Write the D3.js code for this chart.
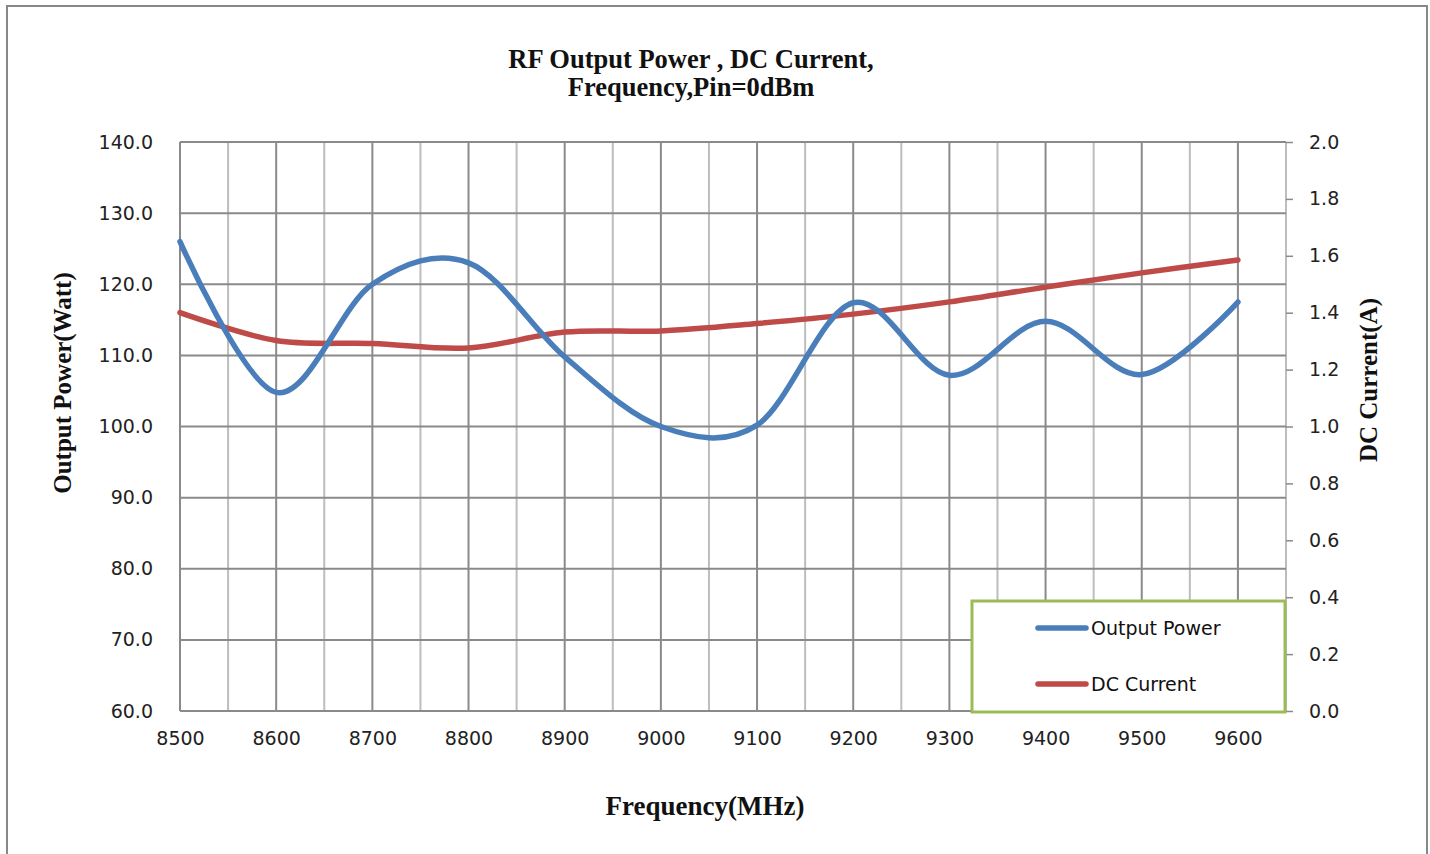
<!DOCTYPE html>
<meta charset="utf-8">
<style>
body {
  margin: 0;
  background: #fff;
}
.tick text {
  font-family: "DejaVu Sans", sans-serif;
  font-size: 19px;
  fill: #222;
}
.ttl {
  font-family: "Liberation Serif", serif;
  font-weight: bold;
  fill: #111;
}
</style>
<svg width="1430" height="854"></svg>
<script src="https://cdn.jsdelivr.net/npm/d3@7"></script>
<script>

var freq = [8500, 8600, 8700, 8800, 8900, 9000, 9100, 9200, 9300, 9400, 9500, 9600];
var power = [126.0, 104.8, 120.0, 123.0, 109.8, 100.0, 100.2, 117.4, 107.2, 114.8, 107.3, 117.5];
var current = [1.40, 1.302, 1.292, 1.276, 1.332, 1.336, 1.362, 1.395, 1.438, 1.49, 1.54, 1.585];
var yLeftTicks = [60, 70, 80, 90, 100, 110, 120, 130, 140];
var yRightTicks = [0, 0.2, 0.4, 0.6, 0.8, 1.0, 1.2, 1.4, 1.6, 1.8, 2.0];
var seriesNames = ["Output Power", "DC Current"];
var colors = ["#4a7ebb", "#be4b48"];

var plotLeft = 180, plotRight = 1286, plotTop = 142, plotBottom = 711;

var svg = d3.select("svg");

// outer chart border
svg.append("rect")
  .attr("x", 7).attr("y", 6)
  .attr("width", 1420).attr("height", 860)
  .attr("fill", "none")
  .attr("stroke", "#888")
  .attr("stroke-width", 2);

var x = d3.scaleLinear().domain([8500, 9650]).range([plotLeft, plotRight]);
var y = d3.scaleLinear().domain([60, 140]).range([plotBottom, plotTop]);
var y2 = d3.scaleLinear().domain([0, 2]).range([plotBottom, plotTop]);

// vertical grid: light at the 50s, darker at the 100s
svg.append("g")
  .selectAll("line")
  .data(x.ticks(24))
  .enter().append("line")
  .attr("x1", function(d) { return x(d); })
  .attr("x2", function(d) { return x(d); })
  .attr("y1", plotTop).attr("y2", plotBottom)
  .attr("stroke", function(d) { return d % 100 == 0 ? "#8a8a8a" : "#bdbdbd"; })
  .attr("stroke-width", 2);

// horizontal grid
svg.append("g")
  .selectAll("line")
  .data(yLeftTicks)
  .enter().append("line")
  .attr("x1", plotLeft).attr("x2", plotRight)
  .attr("y1", function(d) { return y(d); })
  .attr("y2", function(d) { return y(d); })
  .attr("stroke", "#8a8a8a")
  .attr("stroke-width", 2);

// axes
var xAxis = svg.append("g")
  .attr("transform", "translate(0," + plotBottom + ")")
  .call(d3.axisBottom(x).tickValues(freq).tickSize(0).tickPadding(21).tickFormat(d3.format("d")));
xAxis.select(".domain").remove();

var yAxis = svg.append("g")
  .attr("transform", "translate(" + plotLeft + ",0)")
  .call(d3.axisLeft(y).tickValues(yLeftTicks).tickSize(0).tickPadding(27).tickFormat(d3.format(".1f")));
yAxis.select(".domain").remove();

var yAxis2 = svg.append("g")
  .attr("transform", "translate(" + plotRight + ",0)")
  .call(d3.axisRight(y2).tickValues(yRightTicks).tickSize(7).tickPadding(16).tickFormat(d3.format(".1f")));
yAxis2.select(".domain").remove();
yAxis2.selectAll(".tick line").attr("stroke", "#8a8a8a").attr("stroke-width", 1.5);

// series lines (smoothed like the spreadsheet's curves)
var line1 = d3.line()
  .x(function(d, i) { return x(freq[i]); })
  .y(function(d) { return y(d); })
  .curve(d3.curveCardinal.tension(0));
var line2 = d3.line()
  .x(function(d, i) { return x(freq[i]); })
  .y(function(d) { return y2(d); })
  .curve(d3.curveCardinal.tension(0));

svg.append("path")
  .datum(current)
  .attr("d", line2)
  .attr("fill", "none")
  .attr("stroke", colors[1])
  .attr("stroke-width", 5.5)
  .attr("stroke-linecap", "round");

svg.append("path")
  .datum(power)
  .attr("d", line1)
  .attr("fill", "none")
  .attr("stroke", colors[0])
  .attr("stroke-width", 5.5)
  .attr("stroke-linecap", "round");

// legend
var legend = svg.append("g");
legend.append("rect")
  .attr("x", 972).attr("y", 601)
  .attr("width", 313).attr("height", 111)
  .attr("fill", "#fff")
  .attr("stroke", "#9bbb59")
  .attr("stroke-width", 3);

var item = legend.selectAll(".item")
  .data(seriesNames)
  .enter().append("g")
  .attr("transform", function(d, i) { return "translate(0," + (628 + i * 56) + ")"; });
item.append("line")
  .attr("x1", 1038).attr("x2", 1086)
  .attr("stroke", function(d, i) { return colors[i]; })
  .attr("stroke-width", 5.5)
  .attr("stroke-linecap", "round");
item.append("text")
  .attr("x", 1091).attr("dy", "0.35em")
  .style("font-family", "DejaVu Sans, sans-serif")
  .style("font-size", "19px")
  .attr("fill", "#111")
  .text(function(d) { return d; });

// titles
svg.append("text").attr("class", "ttl")
  .attr("x", 691).attr("y", 68)
  .attr("text-anchor", "middle")
  .style("font-size", "26.5px")
  .text("RF Output Power , DC Current,");
svg.append("text").attr("class", "ttl")
  .attr("x", 691).attr("y", 96)
  .attr("text-anchor", "middle")
  .style("font-size", "26.5px")
  .text("Frequency,Pin=0dBm");

svg.append("text").attr("class", "ttl")
  .attr("x", 705).attr("y", 815)
  .attr("text-anchor", "middle")
  .style("font-size", "27px")
  .text("Frequency(MHz)");

svg.append("text").attr("class", "ttl")
  .attr("transform", "translate(71,383) rotate(-90)")
  .attr("text-anchor", "middle")
  .style("font-size", "25px")
  .text("Output Power(Watt)");

svg.append("text").attr("class", "ttl")
  .attr("transform", "translate(1377,380) rotate(-90)")
  .attr("text-anchor", "middle")
  .style("font-size", "25px")
  .text("DC Current(A)");

</script>
